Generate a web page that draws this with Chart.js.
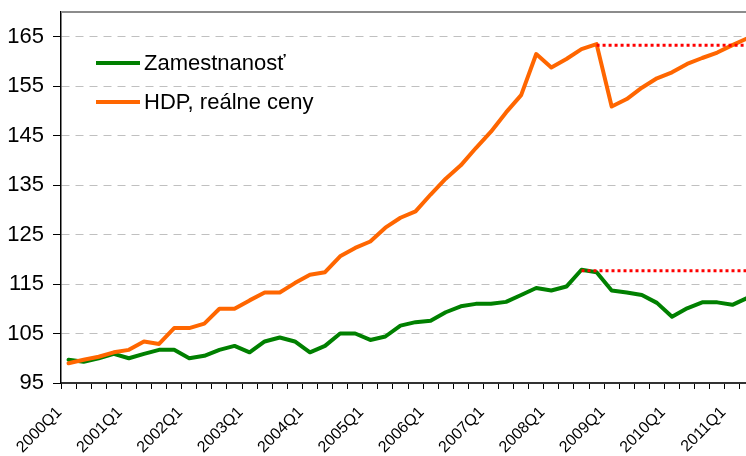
<!DOCTYPE html>
<html lang="sk">
<head>
    <meta charset="UTF-8">
    <title>Zamestnanosť a HDP</title>
    <script src="https://cdn.jsdelivr.net/npm/chart.js"></script>
    <style>
        html, body { margin: 0; padding: 0; overflow: hidden; background: #fff; }
    </style>
</head>
<body>
    <canvas id="chart" width="760" height="456"></canvas>

    <script>
        // stvrtroky 2000Q1 - 2011Q2
        const quarters = [
            '2000Q1','2000Q2','2000Q3','2000Q4','2001Q1','2001Q2','2001Q3','2001Q4',
            '2002Q1','2002Q2','2002Q3','2002Q4','2003Q1','2003Q2','2003Q3','2003Q4',
            '2004Q1','2004Q2','2004Q3','2004Q4','2005Q1','2005Q2','2005Q3','2005Q4',
            '2006Q1','2006Q2','2006Q3','2006Q4','2007Q1','2007Q2','2007Q3','2007Q4',
            '2008Q1','2008Q2','2008Q3','2008Q4','2009Q1','2009Q2','2009Q3','2009Q4',
            '2010Q1','2010Q2','2010Q3','2010Q4','2011Q1','2011Q2'
        ];

        const zamestnanost = [
            99.7, 99.3, 100.0, 100.9, 100.0, 100.9, 101.7, 101.7,
            100.0, 100.5, 101.7, 102.5, 101.2, 103.4, 104.2, 103.4,
            101.2, 102.5, 105.0, 105.0, 103.7, 104.4, 106.6, 107.3,
            107.6, 109.3, 110.5, 111.0, 111.0, 111.4, 112.8, 114.2,
            113.7, 114.5, 117.9, 117.4, 113.7, 113.3, 112.8, 111.2,
            108.4, 110.1, 111.3, 111.3, 110.8, 112.2
        ];

        const hdp = [
            99.0, 99.7, 100.3, 101.2, 101.7, 103.4, 102.9, 106.1,
            106.1, 107.0, 110.0, 110.0, 111.7, 113.3, 113.3, 115.2,
            116.9, 117.4, 120.6, 122.3, 123.6, 126.4, 128.4, 129.7,
            133.1, 136.3, 139.0, 142.5, 145.8, 149.7, 153.2, 161.5,
            158.8, 160.5, 162.5, 163.5, 150.9, 152.4, 154.7, 156.6,
            157.8, 159.5, 160.7, 161.8, 163.3, 164.7
        ];

        // predkrizove maximum (cervena bodkovana ciara)
        const zamPeak = 117.7, zamPeakFrom = '2008Q3';
        const hdpPeak = 163.3, hdpPeakFrom = '2008Q4';

        const yTicks = [95, 105, 115, 125, 135, 145, 155, 165];
        const yMin = 95, yMax = 170;

        const font = '"Liberation Sans", Arial, sans-serif';

        function peakLine(level, from) {
            const start = quarters.indexOf(from);
            return quarters.map((q, i) => i >= start ? level : null);
        }

        // legenda vo vnutri grafu + horny okraj
        const plotLegend = {
            id: 'plotLegend',
            afterDraw(chart) {
                const ctx = chart.ctx;
                const a = chart.chartArea;
                ctx.save();
                ctx.strokeStyle = '#8c8c8c';
                ctx.lineWidth = 2;
                ctx.beginPath();
                ctx.moveTo(a.left, a.top);
                ctx.lineTo(a.right + 10, a.top);
                ctx.stroke();

                const items = chart.data.datasets.filter(d => d.label);
                items.sort((p, q) => p.legendIndex - q.legendIndex);
                ctx.font = '22px ' + font;
                ctx.textBaseline = 'middle';
                ctx.fillStyle = '#000';
                items.forEach((d, i) => {
                    const y = a.top + 51 + i * 39;
                    const x = a.left + 35;
                    ctx.strokeStyle = d.borderColor;
                    ctx.lineWidth = 4;
                    ctx.beginPath();
                    ctx.moveTo(x, y);
                    ctx.lineTo(x + 44, y);
                    ctx.stroke();
                    ctx.fillText(d.label, x + 48, y + 1);
                });
                ctx.restore();
            }
        };

        const ctx = document.getElementById('chart').getContext('2d');
        const chart = new Chart(ctx, {
            type: 'line',
            data: {
                labels: quarters,
                datasets: [
                    {
                        data: peakLine(zamPeak, zamPeakFrom),
                        borderColor: '#ff0000',
                        borderWidth: 3,
                        borderDash: [3, 3],
                        borderCapStyle: 'butt',
                        order: 0
                    },
                    {
                        data: peakLine(hdpPeak, hdpPeakFrom),
                        borderColor: '#ff0000',
                        borderWidth: 3,
                        borderDash: [3, 3],
                        borderCapStyle: 'butt',
                        order: 0
                    },
                    {
                        label: 'HDP, reálne ceny',
                        legendIndex: 1,
                        data: hdp,
                        borderColor: '#ff6600',
                        borderWidth: 4,
                        order: 1
                    },
                    {
                        label: 'Zamestnanosť',
                        legendIndex: 0,
                        data: zamestnanost,
                        borderColor: '#008000',
                        borderWidth: 4,
                        order: 2
                    }
                ]
            },
            options: {
                responsive: false,
                animation: false,
                devicePixelRatio: 1,
                layout: { padding: { top: 12, right: 5, left: 0, bottom: 0 } },
                elements: {
                    point: { radius: 0 },
                    line: { tension: 0, borderJoinStyle: 'round', borderCapStyle: 'round', fill: false }
                },
                plugins: {
                    legend: { display: false },
                    tooltip: { enabled: false }
                },
                scales: {
                    x: {
                        type: 'category',
                        offset: true,
                        grid: {
                            offset: true,
                            drawOnChartArea: false,
                            tickLength: 6,
                            tickColor: '#000'
                        },
                        border: { color: '#333', width: 2 },
                        ticks: {
                            autoSkip: false,
                            minRotation: 45,
                            maxRotation: 45,
                            padding: 14,
                            labelOffset: -9,
                            color: '#000',
                            font: { family: font, size: 16 },
                            callback: function (value, index) {
                                return index % 4 === 0 ? this.getLabelForValue(value) : '';
                            }
                        },
                        afterFit(scale) {
                            scale.height = 73;
                            scale.paddingLeft = 0;
                            scale.paddingRight = 0;
                        }
                    },
                    y: {
                        min: yMin,
                        max: yMax,
                        afterBuildTicks(scale) {
                            scale.ticks = yTicks.map(v => ({ value: v }));
                        },
                        grid: {
                            color: '#c0c0c0',
                            tickColor: '#000',
                            tickLength: 8
                        },
                        border: { color: '#000', width: 1.5, dash: [8, 6] },
                        ticks: {
                            padding: 9,
                            color: '#000',
                            font: { family: font, size: 22 }
                        },
                        afterFit(scale) {
                            scale.width = 61;
                            scale.paddingTop = 0;
                            scale.paddingBottom = 0;
                        }
                    }
                }
            },
            plugins: [plotLegend]
        });
    </script>
</body>
</html>
